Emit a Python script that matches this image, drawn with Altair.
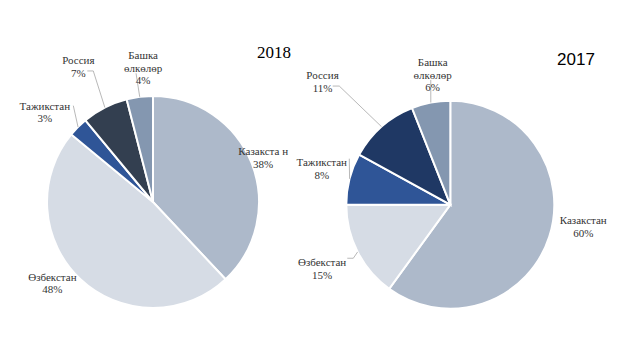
import altair as alt
import pandas as pd

# ---- data ----
years = ["2018", "2017"]
countries = ["Казакстан", "Өзбекстан", "Тажикстан", "Россия", "Башка өлкөлөр"]
labels_2018 = ["Казакста н", "Өзбекстан", "Тажикстан", "Россия", "Башка\nөлкөлөр"]
labels_2017 = ["Казакстан", "Өзбекстан", "Тажикстан", "Россия", "Башка\nөлкөлөр"]
values_2018 = [38, 48, 3, 7, 4]
values_2017 = [60, 15, 8, 11, 6]

# ---- styles / layout ----
colors_2018 = ["#adb9ca", "#d6dce5", "#2f5597", "#333f50", "#8497b0"]
colors_2017 = ["#adb9ca", "#d6dce5", "#2f5597", "#1f3864", "#8497b0"]
panels = {
    "2018": dict(cx=145, cy=194, R=106, tx=266, ty=45, tfont="Liberation Serif"),
    "2017": dict(cx=442.3, cy=196.7, R=104, tx=568, ty=52, tfont="Liberation Sans"),
}
# label placement: (radius px, angle offset in degrees from the slice middle)
label_pos = {
    "2018": [(121, -2.8), (126, 9.8), (144, -3.7), (159.5, -0.9), (146, 3.3)],
    "2017": [(134, -10.8), (141, 2.4), (135, 3.4), (181, -3.5), (142.5, 3.7)],
}
# leader lines: (outer radius, outer angle deg, horizontal tail px)
leaders = {
    "2018": [None, None, (125, 320.4, 0), (144, 335.5, -6), (129.8, 352.5, 0)],
    "2017": [None, (110.8, 241.1, -6), (111, 294.5, 0), (162.5, 316.9, -6.6), (126.2, 351.1, 0)],
}

rows = []
series = {"2018": (labels_2018, values_2018), "2017": (labels_2017, values_2017)}
for y in years:
    labs, vals = series[y]
    for i, (c, lab, v) in enumerate(zip(countries, labs, vals)):
        lr, ldt = label_pos[y][i]
        ld = leaders[y][i]
        rows.append(dict(
            year=y, idx=i, country=c, value=v, text=f"{lab}\n{v}%",
            key=f"{y}-{i}", lr=lr, ldt=ldt,
            has_leader=ld is not None,
            r1=ld[0] if ld else 0, a1=ld[1] if ld else 0, h=ld[2] if ld else 0,
        ))
df = pd.DataFrame(rows)

color_domain = [f"{y}-{i}" for y in years for i in range(len(countries))]
color_range = colors_2018 + colors_2017

layers = []
for y in years:
    p = panels[y]
    cx, cy, R = p["cx"], p["cy"], p["R"]
    base = (
        alt.Chart(df)
        .transform_filter(alt.datum.year == y)
        .transform_joinaggregate(total="sum(value)")
        .transform_window(cum="sum(value)", sort=[alt.SortField("idx")], frame=[None, 0])
        .transform_calculate(mid="(datum.cum - datum.value/2) / datum.total * 2 * PI")
    )
    arcs = (
        alt.Chart(df)
        .transform_filter(alt.datum.year == y)
        .mark_arc(radius=R, stroke="white", strokeWidth=2)
        .encode(
            theta=alt.Theta("value:Q", stack=True),
            order=alt.Order("idx:Q"),
            color=alt.Color("key:N", scale=alt.Scale(domain=color_domain, range=color_range), legend=None),
            x=alt.value(cx),
            y=alt.value(cy),
        )
    )
    lbl = (
        base.transform_calculate(
            la="datum.mid + datum.ldt * PI / 180",
        )
        .transform_calculate(
            lx=f"{cx} + datum.lr * sin(datum.la)",
            ly=f"{cy} - datum.lr * cos(datum.la)",
        )
        .mark_text(font="Liberation Serif", fontSize=11, lineBreak="\n", lineHeight=12.5,
                   align="center", baseline="middle", color="#333333")
        .encode(
            x=alt.X("lx:Q", scale=None, axis=None),
            y=alt.Y("ly:Q", scale=None, axis=None),
            text="text:N",
        )
    )
    lead = (
        base.transform_filter(alt.datum.has_leader)
        .transform_calculate(
            xin=f"{cx} + {R} * sin(datum.mid)",
            yin=f"{cy} - {R} * cos(datum.mid)",
            xo=f"{cx} + datum.r1 * sin(datum.a1 * PI / 180)",
            yo=f"{cy} - datum.r1 * cos(datum.a1 * PI / 180)",
        )
        .transform_calculate(xt="datum.xo + datum.h")
    )
    lead1 = lead.mark_rule(color="#a6a6a6", strokeWidth=0.8).encode(
        x=alt.X("xin:Q", scale=None, axis=None),
        y=alt.Y("yin:Q", scale=None, axis=None),
        x2="xo:Q",
        y2="yo:Q",
    )
    lead2 = lead.transform_filter("datum.h != 0").mark_rule(color="#a6a6a6", strokeWidth=0.8).encode(
        x=alt.X("xo:Q", scale=None, axis=None),
        y=alt.Y("yo:Q", scale=None, axis=None),
        x2="xt:Q",
        y2="yo:Q",
    )
    title = (
        alt.Chart(pd.DataFrame({"t": [y]}))
        .mark_text(font=p["tfont"], fontSize=17, color="#000000", align="center", baseline="middle")
        .encode(text="t:N", x=alt.value(p["tx"]), y=alt.value(p["ty"]))
    )
    layers += [arcs, lead1, lead2, lbl, title]

chart = (
    alt.layer(*layers)
    .resolve_scale(theta="independent")
    .properties(width=608, height=344, padding=0, background="white")
    .configure_view(stroke=None)
)

chart.save("out.html", embed_options={"renderer": "svg", "actions": False})
